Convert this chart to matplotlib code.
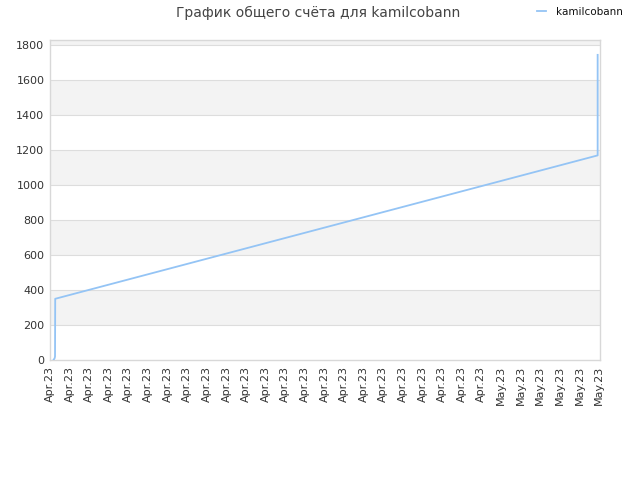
import matplotlib
matplotlib.use("Agg")
import matplotlib.pyplot as plt

# score history (x in days from first tick)
days = [0.18, 0.24, 0.26, 0.27, 27.93, 27.93]
scores = [0, 10, 20, 350, 1170, 1745]

tick_labels = ["Apr.23"] * 23 + ["May.23"] * 6
y_ticks = [0, 200, 400, 600, 800, 1000, 1200, 1400, 1600, 1800]

fig = plt.figure(figsize=(6.4, 4.8), dpi=100)
ax = fig.add_axes([0.078, 0.25, 0.8595, 0.6667])

ymax = 1830
# alternating background bands
for i, lo in enumerate(y_ticks):
    hi = lo + 200 if lo + 200 < ymax else ymax
    if i % 2 == 1:
        ax.axhspan(lo, hi, color="#f3f3f3", zorder=0, lw=0)
for y in y_ticks[1:]:
    ax.axhline(y, color="#dddddd", lw=0.8, zorder=1)

ax.plot(days, scores, color="#94c4f5", lw=1.3, zorder=3, label="kamilcobann")

ax.set_xlim(0, len(tick_labels) - 1 + 0.05)
ax.set_ylim(0, ymax)
ax.set_xticks(range(len(tick_labels)))
ax.set_xticklabels(tick_labels, rotation=90)
ax.set_yticks(y_ticks)
ax.tick_params(axis="both", length=0, labelsize=8, colors="#333333", pad=4)

for s in ax.spines.values():
    s.set_color("#d8d8d8")
    s.set_linewidth(1)

fig.text(0.497, 0.972, "График общего счёта для kamilcobann", ha="center", va="center",
         fontsize=10, color="#444444")
fig.legend(loc="center", bbox_to_anchor=(0.906, 0.975), frameon=False, fontsize=7.5,
           handlelength=0.9, handletextpad=0.9, labelcolor="#111111")

plt.savefig("out.png", dpi=100)
